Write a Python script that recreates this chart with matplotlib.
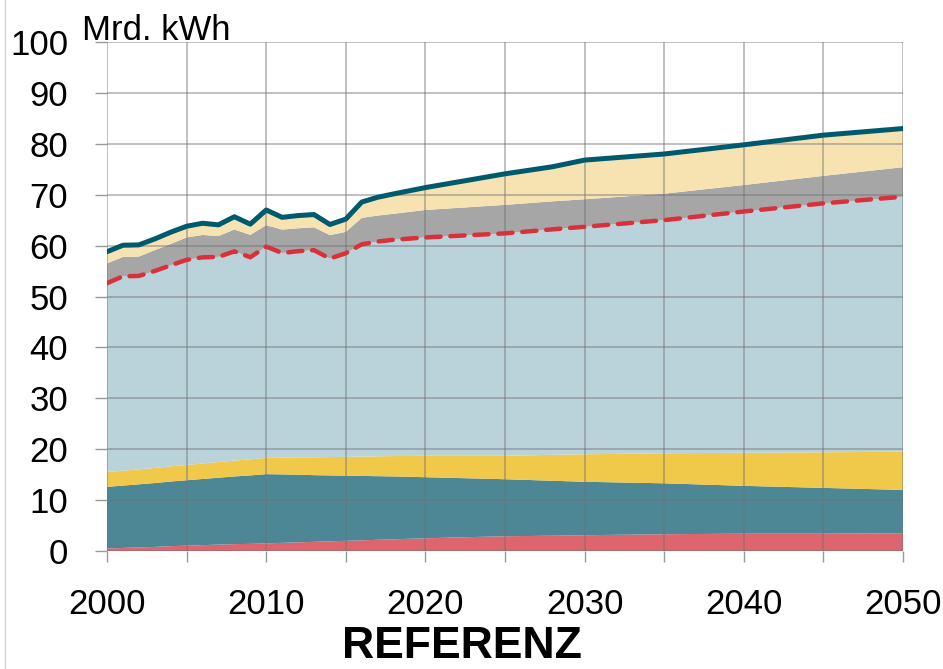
import matplotlib.pyplot as plt
from matplotlib.lines import Line2D
from matplotlib.ticker import MultipleLocator
import numpy as np

plt.rcParams['font.family'] = ['Liberation Sans', 'DejaVu Sans']

# Jahre (jährlich bis 2018, danach Stützstellen)
years = [2000, 2001, 2002, 2003, 2004, 2005, 2006, 2007, 2008, 2009,
         2010, 2011, 2012, 2013, 2014, 2015, 2016, 2017, 2018,
         2020, 2025, 2028, 2030, 2035, 2040, 2045, 2050]

# Schichten in Mrd. kWh (von unten nach oben)
rot = [0.5, 0.6, 0.7, 0.8, 0.95, 1.05, 1.15, 1.25, 1.35, 1.4,
       1.5, 1.6, 1.7, 1.8, 1.9, 2.0, 2.1, 2.2, 2.3,
       2.5, 2.9, 3.0, 3.1, 3.3, 3.4, 3.4, 3.5]
petrol = [12.1, 12.25, 12.4, 12.55, 12.7, 12.85, 13.0, 13.15, 13.3, 13.45,
          13.6, 13.45, 13.3, 13.1, 12.95, 12.8, 12.65, 12.5, 12.35,
          12.0, 11.2, 10.8, 10.5, 10.0, 9.4, 9.0, 8.5]
gelb = [2.9, 2.92, 2.94, 2.96, 2.98, 3.0, 3.04, 3.08, 3.12, 3.16,
        3.2, 3.3, 3.4, 3.5, 3.6, 3.7, 3.8, 3.9, 4.0,
        4.2, 4.6, 5.1, 5.4, 5.9, 6.5, 7.0, 7.5]
hellblau = [37.1, 38.2, 38.0, 38.7, 39.5, 40.3, 40.5, 40.3, 41.1, 39.7,
            41.5, 40.2, 40.5, 40.7, 39.0, 40.0, 41.7, 42.2, 42.5,
            42.9, 43.7, 44.3, 44.7, 45.8, 47.4, 48.9, 50.1]
grau = [3.9, 3.8, 3.8, 4.1, 4.2, 4.4, 4.4, 4.1, 4.3, 4.4,
        4.2, 4.6, 4.5, 4.5, 4.6, 4.2, 5.2, 5.1, 5.1,
        5.4, 5.6, 5.5, 5.4, 5.2, 5.2, 5.4, 5.8]
beige = [2.3, 2.3, 2.3, 2.2, 2.3, 2.2, 2.3, 2.2, 2.5, 2.1,
         3.0, 2.4, 2.5, 2.5, 2.1, 2.5, 3.1, 3.6, 3.9,
         4.4, 6.1, 6.8, 7.7, 7.8, 7.9, 8.0, 7.6]

farben = ['#DE646E', '#4D8795', '#F0C94A', '#BAD3DA', '#A6A6A6', '#F6E3B1']

fig = plt.figure(figsize=(9.43, 6.69), dpi=100)
ax = fig.add_axes([107 / 943, 118 / 669, 796 / 943, 509 / 669])

schichten = [rot, petrol, gelb, hellblau, grau, beige]
ax.stackplot(years, *schichten, colors=farben, linewidth=0, zorder=1)

kum = np.cumsum(np.array(schichten), axis=0)
# gestrichelte Linie = Oberkante hellblau
ax.plot(years, kum[3], color='#D9303C', lw=3.2, dashes=(3.2, 2.2),
        dash_capstyle='round', zorder=4)
# Gesamt
ax.plot(years, kum[5], color='#005A6E', lw=3.6, solid_joinstyle='round', zorder=4)

ax.set_xlim(2000, 2050)
ax.set_ylim(0, 100)
ax.xaxis.set_major_locator(MultipleLocator(10))
ax.xaxis.set_minor_locator(MultipleLocator(5))
ax.yaxis.set_major_locator(MultipleLocator(10))

for s in ax.spines.values():
    s.set_visible(False)

ax.grid(True, which='both', axis='x', color='#707070', alpha=0.55, lw=1.1, zorder=3)
ax.grid(True, which='major', axis='y', color='#707070', alpha=0.55, lw=1.1, zorder=3)
ax.set_axisbelow(False)

ax.tick_params(axis='x', which='both', length=8, width=1, color='#999999',
               labelsize=25, pad=19)
ax.tick_params(axis='y', which='major', length=9, width=1, color='#999999',
               labelsize=25, pad=19)

fig.text(82 / 943, 1 - 40 / 669, 'Mrd. kWh', fontsize=25, ha='left', va='baseline')
fig.text(462 / 943, 2 / 669, 'REFERENZ', fontsize=32, fontweight='bold',
         ha='center', va='bottom')

fig.add_artist(Line2D([5 / 943, 5 / 943], [0, 1], color='#D0D0D0', lw=1))

fig.savefig('out.png', dpi=100)
